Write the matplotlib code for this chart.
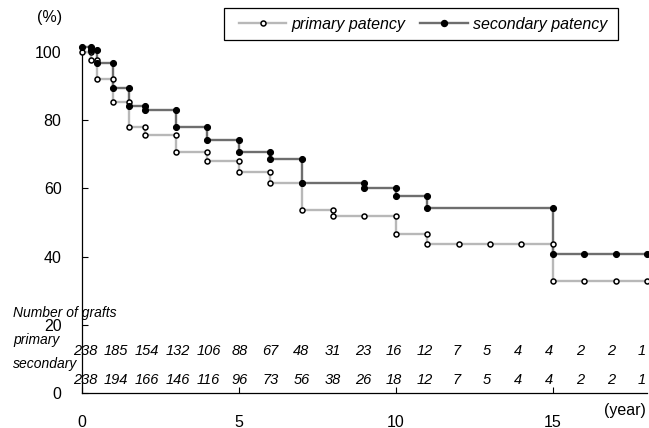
import matplotlib
matplotlib.use("Agg")
import matplotlib.pyplot as plt
from matplotlib.lines import Line2D
from matplotlib.patches import Rectangle

plt.rcParams["font.family"] = ["Liberation Sans", "DejaVu Sans"]

# Kaplan-Meier style curves, vertices of the step lines (markers at each vertex)
primary_t = [0, 0.3, 0.3, 0.5, 0.5, 1, 1, 1.5, 1.5, 2, 2, 3, 3, 4, 4, 5, 5, 6, 6,
             7, 7, 8, 8, 9, 10, 10, 11, 11, 12, 13, 14, 15, 15, 16, 17, 18]
primary_s = [100, 100, 97.6, 97.6, 92.1, 92.1, 85.3, 85.3, 77.8, 77.8, 75.6, 75.6,
             70.5, 70.5, 68.1, 68.1, 64.9, 64.9, 61.6, 61.6, 53.5, 53.5, 51.8, 51.8,
             51.8, 46.6, 46.6, 43.6, 43.6, 43.6, 43.6, 43.6, 32.9, 32.9, 32.9, 32.9]

secondary_t = [0, 0.3, 0.3, 0.5, 0.5, 1, 1, 1.5, 1.5, 2, 2, 3, 3, 4, 4, 5, 5, 6, 6,
               7, 7, 9, 9, 10, 10, 11, 11, 15, 15, 16, 17, 18]
secondary_s = [101.2, 101.2, 100.4, 100.4, 96.6, 96.6, 89.3, 89.3, 84.0, 84.0, 83.0,
               83.0, 77.9, 77.9, 74.0, 74.0, 70.6, 70.6, 68.5, 68.5, 61.6, 61.6,
               60.1, 60.1, 57.6, 57.6, 54.1, 54.1, 40.8, 40.8, 40.8, 40.8]

# numbers at risk, one per year 0..18
years = list(range(19))
n_primary = [238, 185, 154, 132, 106, 88, 67, 48, 31, 23, 16, 12, 7, 5, 4, 4, 2, 2, 1]
n_secondary = [238, 194, 166, 146, 116, 96, 73, 56, 38, 26, 18, 12, 7, 5, 4, 4, 2, 2, 1]

C_PRIM = "#b8b8b8"
C_SEC = "#6e6e6e"
W, H = 649, 428

fig = plt.figure(figsize=(W / 100, H / 100), dpi=100)
ax = fig.add_axes([0.1259, 0.0811, 0.8711, 0.808])

ax.plot(primary_t, primary_s, color=C_PRIM, lw=1.7, zorder=2, clip_on=False)
ax.plot(secondary_t, secondary_s, color=C_SEC, lw=1.7, zorder=3, clip_on=False)
ax.plot(primary_t, primary_s, ls="none", marker="o", ms=3.6, mfc="white",
        mec="black", mew=1.1, zorder=4, clip_on=False)
ax.plot(secondary_t, secondary_s, ls="none", marker="o", ms=4.3, mfc="black",
        mec="black", mew=0.8, zorder=5, clip_on=False)

ax.set_xlim(0, 18)
ax.set_ylim(0, 101.2)
ax.set_xticks([0, 5, 10, 15])
ax.set_yticks([0, 20, 40, 60, 80, 100])
ax.tick_params(direction="in", length=4, width=0.8, labelsize=11.5)
ax.tick_params(axis="y", pad=14.5)
ax.tick_params(axis="x", pad=15.3)
for side in ("top", "right"):
    ax.spines[side].set_visible(False)
for side in ("left", "bottom"):
    ax.spines[side].set_linewidth(0.9)

ax.text(-0.63, 110.1, "(%)", ha="right", va="center", fontsize=11.5, clip_on=False)
ax.text(17.95, -4.9, "(year)", ha="right", va="center", fontsize=11.5, clip_on=False)

# number of grafts table
lab_x = -2.18
ax.text(lab_x, 23.5, "Number of grafts", style="italic", fontsize=10,
        ha="left", va="center", clip_on=False)
ax.text(lab_x, 15.7, "primary", style="italic", fontsize=10,
        ha="left", va="center", clip_on=False)
ax.text(lab_x, 8.7, "secondary", style="italic", fontsize=10,
        ha="left", va="center", clip_on=False)
for t, a, b in zip(years, n_primary, n_secondary):
    xp = 0.1 + 0.985 * t
    ax.text(xp, 12.5, str(a), style="italic", fontsize=10.5, ha="center", va="center")
    ax.text(xp, 3.9, str(b), style="italic", fontsize=10.5, ha="center", va="center")

# legend box drawn separately so its padding matches the reference
fig.patches.append(Rectangle((224 / W, 1 - 40 / H), 394 / W, 32 / H,
                             transform=fig.transFigure, fill=False,
                             edgecolor="black", lw=0.9))
handles = [
    Line2D([], [], color=C_PRIM, lw=1.7, marker="o", ms=3.6, mfc="white",
           mec="black", mew=1.1),
    Line2D([], [], color=C_SEC, lw=1.7, marker="o", ms=4.3, mfc="black", mec="black"),
]
fig.legend(handles, ["primary patency", "secondary patency"], ncol=2,
           loc="center left", bbox_to_anchor=(239 / W, 1 - 24 / H),
           prop={"style": "italic", "size": 11.5}, frameon=False,
           handlelength=2.95, handletextpad=0.33, columnspacing=0.95,
           borderpad=0, borderaxespad=0)

fig.savefig("out.png", dpi=100)
